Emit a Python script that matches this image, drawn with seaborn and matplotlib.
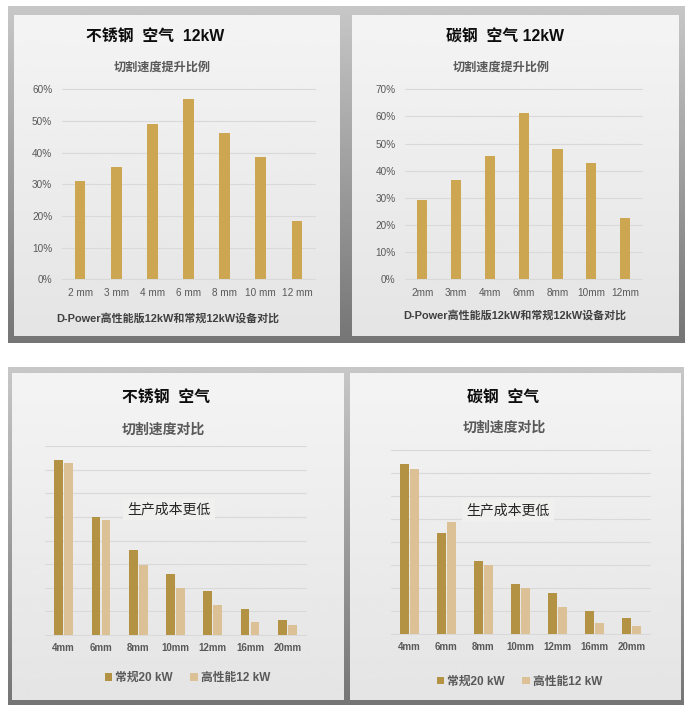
import numpy as np
import pandas as pd
import matplotlib
matplotlib.use("Agg")
import matplotlib.pyplot as plt
import seaborn as sns
from matplotlib.ticker import PercentFormatter

# ---------------- data ----------------
tl_cats = ['2 mm', '3 mm', '4 mm', '6 mm', '8 mm', '10 mm', '12 mm']
tl_vals = [31.0, 35.6, 49.0, 56.8, 46.1, 38.7, 18.3]
tr_cats = ['2mm', '3mm', '4mm', '6mm', '8mm', '10mm', '12mm']
tr_vals = [29.2, 36.6, 45.4, 61.3, 48.0, 42.9, 22.6]

bottom_cats = ['4mm', '6mm', '8mm', '10mm', '12mm', '16mm', '20mm']
series_names = ['常规20 kW', '高性能12 kW']
bl_regular = [7.40, 4.99, 3.58, 2.58, 1.86, 1.09, 0.62]
bl_high = [7.28, 4.87, 2.96, 1.99, 1.28, 0.55, 0.42]
br_regular = [7.40, 4.38, 3.18, 2.18, 1.79, 0.99, 0.68]
br_high = [7.18, 4.89, 2.99, 2.00, 1.19, 0.49, 0.35]

TOPC = '#CDA652'
DARK = '#B49244'
LIGHT = '#DCC196'
GRAYTXT = '#595959'

W, H = 693, 712
sns.set_theme(style='white')
plt.rcParams['font.family'] = ['Liberation Sans', 'Noto Sans CJK SC', 'DejaVu Sans']

fig = plt.figure(figsize=(W / 100, H / 100), dpi=100)
fig.patch.set_facecolor('white')

# ---------------- background frames ----------------
bg = fig.add_axes([0, 0, 1, 1])
bg.set_zorder(-5)
bg.axis('off')


def grad(x0, y0, x1, y1, c0, c1):
    arr = np.linspace(c0, c1, 128).reshape(-1, 1)
    bg.imshow(arr, cmap='gray', vmin=0, vmax=1, extent=(x0, x1, y1, y0),
              aspect='auto', interpolation='bilinear')


grad(8, 6, 685, 343, 0.78, 0.46)
grad(14, 15, 340, 336, 0.955, 0.895)
grad(352, 15, 679, 336, 0.955, 0.895)
grad(8, 367, 684, 705, 0.78, 0.46)
grad(12, 373, 344, 700, 0.955, 0.895)
grad(350, 373, 681, 700, 0.955, 0.895)
bg.set_xlim(0, W)
bg.set_ylim(H, 0)


def px_ax(x0, y0, x1, y1):
    return fig.add_axes([x0 / W, 1 - y1 / H, (x1 - x0) / W, (y1 - y0) / H])


def ftext(x, y, s, **kw):
    return fig.text(x / W, 1 - y / H, s, ha='center', va='center', **kw)


def style_axes(ax, ymax, step):
    ax.set_ylim(0, ymax)
    ax.set_yticks(np.arange(0, ymax + 0.001, step))
    ax.grid(axis='y', color='#d9d9d9', lw=0.8)
    ax.grid(axis='x', visible=False)
    ax.set_axisbelow(True)
    for gl in ax.get_ygridlines():
        gl.set_clip_on(False)
    for s in ax.spines.values():
        s.set_visible(False)
    ax.patch.set_alpha(0)
    ax.set_xlabel('')
    ax.set_ylabel('')
    ax.tick_params(length=0)


def top_chart(rect, cats, vals, ymax):
    ax = px_ax(*rect)
    df = pd.DataFrame({'cat': cats, 'val': vals})
    sns.barplot(data=df, x='cat', y='val', color=TOPC, width=0.3,
                saturation=1, linewidth=0, ax=ax)
    ax.set_xlim(-0.5, len(cats) - 0.5)
    style_axes(ax, ymax, 10)
    ax.yaxis.set_major_formatter(PercentFormatter(100, decimals=0))
    ax.tick_params(labelsize=7.2, labelcolor=GRAYTXT)
    ax.tick_params(axis='y', pad=7)
    ax.tick_params(axis='x', pad=6)
    return ax


def bottom_chart(rect, regular, high, legend_xy):
    ax = px_ax(*rect)
    n = len(bottom_cats)
    df = pd.DataFrame({'cat': bottom_cats * 2,
                       'series': [series_names[0]] * n + [series_names[1]] * n,
                       'val': list(regular) + list(high)})
    sns.barplot(data=df, x='cat', y='val', hue='series',
                palette=[DARK, LIGHT], width=0.534, gap=0.13,
                saturation=1, linewidth=0, ax=ax)
    ax.set_xlim(-0.5, n - 0.5)
    style_axes(ax, 8, 1)
    ax.set_yticklabels([])
    ax.tick_params(axis='x', labelsize=7, labelcolor=GRAYTXT, pad=6)
    for lab in ax.get_xticklabels():
        lab.set_fontweight('bold')
    sns.move_legend(ax, 'center',
                    bbox_to_anchor=(legend_xy[0] / W, 1 - legend_xy[1] / H),
                    bbox_transform=fig.transFigure, ncol=2, frameon=False,
                    title=None, handlelength=0.6, handleheight=0.6,
                    handletextpad=0.3, columnspacing=1.5,
                    prop={'weight': 'bold', 'size': 8.5},
                    labelcolor=GRAYTXT)
    return ax


top_chart((62, 89.3, 315, 279.3), tl_cats, tl_vals, 60)
top_chart((405.3, 89.3, 642, 279.3), tr_cats, tr_vals, 70)
bottom_chart((45, 446, 306, 635), bl_regular, bl_high, (187.5, 678))
bottom_chart((391, 450.3, 650, 634), br_regular, br_high, (519.5, 681.5))

# ---------------- texts ----------------
ftext(155, 37, '不锈钢  空气  12kW', fontsize=11.4, fontweight='bold', color='#0d0d0d')
ftext(162, 68, '切割速度提升比例', fontsize=8.7, fontweight='bold', color=GRAYTXT)
ftext(167.5, 318, 'D-Power高性能版12kW和常规12kW设备对比', fontsize=7.9,
      fontweight='bold', color='#404040')

ftext(505.5, 37, '碳钢  空气 12kW', fontsize=11.4, fontweight='bold', color='#0d0d0d')
ftext(501, 68, '切割速度提升比例', fontsize=8.7, fontweight='bold', color=GRAYTXT)
ftext(515, 315, 'D-Power高性能版12kW和常规12kW设备对比', fontsize=7.9,
      fontweight='bold', color='#404040')

ftext(165.8, 398, '不锈钢  空气', fontsize=11.4, fontweight='bold', color='#0d0d0d')
ftext(163, 430, '切割速度对比', fontsize=10, fontweight='bold', color=GRAYTXT)
ftext(169, 509, '生产成本更低', fontsize=10, color='#262626',
      bbox=dict(boxstyle='square,pad=0.3', fc='#f0f0ee', ec='none'))

ftext(503.5, 398, '碳钢  空气', fontsize=11.4, fontweight='bold', color='#0d0d0d')
ftext(504, 428, '切割速度对比', fontsize=10, fontweight='bold', color=GRAYTXT)
ftext(508, 510.6, '生产成本更低', fontsize=10, color='#262626',
      bbox=dict(boxstyle='square,pad=0.3', fc='#f0f0ee', ec='none'))

fig.savefig('out.png', dpi=100)
